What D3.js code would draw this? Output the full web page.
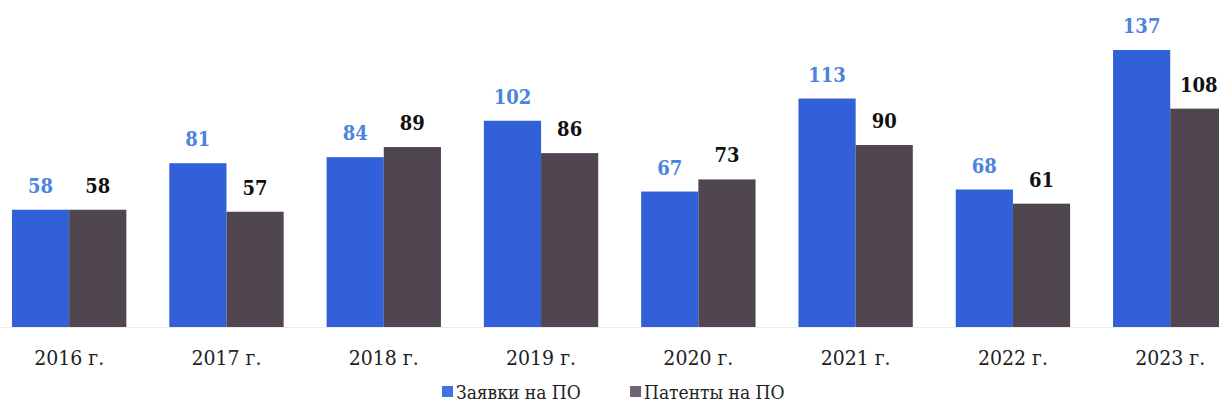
<!DOCTYPE html>
<html lang="ru">
<head>
    <meta charset="UTF-8">
    <title>Заявки и патенты на ПО</title>
    <script src="https://d3js.org/d3.v7.min.js"></script>
    <style>
        body {
            margin: 0;
            background: #fff;
            overflow: hidden;
        }
    </style>
</head>
<body>
    <script>
        const years = ["2016 г.", "2017 г.", "2018 г.", "2019 г.", "2020 г.", "2021 г.", "2022 г.", "2023 г."];
        const applications = [58, 81, 84, 102, 67, 113, 68, 137];
        const patents = [58, 57, 89, 86, 73, 90, 61, 108];
        const seriesNames = ["Заявки на ПО", "Патенты на ПО"];

        const width = 1219;
        const height = 409;
        const baseline = 327;
        const serif = "'DejaVu Serif Condensed', 'DejaVu Serif', serif";

        const barColors = ["#3160d8", "#4f4650"];
        const labelColors = ["#4a84e0", "#111111"];
        const legendColors = ["#3f72e6", "#6d6577"];

        const rows = years.map((y, i) => ({ year: y, values: [applications[i], patents[i]] }));

        const svg = d3.select("body").append("svg")
            .attr("width", width)
            .attr("height", height)
            .style("display", "block");

        const x0 = d3.scaleBand()
            .domain(years)
            .range([12, 1227.4])
            .paddingInner(0.273)
            .paddingOuter(0);

        const x1 = d3.scaleBand()
            .domain([0, 1])
            .range([0, x0.bandwidth()])
            .padding(0);

        const y = d3.scaleLinear()
            .domain([0, 137])
            .range([baseline, 50]);

        svg.append("line")
            .attr("x1", 0).attr("x2", width)
            .attr("y1", baseline + 0.5).attr("y2", baseline + 0.5)
            .attr("stroke", "#ececec")
            .attr("stroke-width", 1);

        const groups = svg.selectAll(".group")
            .data(rows)
            .enter().append("g")
            .attr("class", "group")
            .attr("transform", d => `translate(${x0(d.year)},0)`);

        groups.selectAll("rect")
            .data(d => d.values)
            .enter().append("rect")
            .attr("x", (v, i) => x1(i))
            .attr("y", v => y(v))
            .attr("width", x1.bandwidth())
            .attr("height", v => baseline - y(v))
            .attr("fill", (v, i) => barColors[i]);

        groups.selectAll(".val")
            .data(d => d.values)
            .enter().append("text")
            .attr("class", "val")
            .attr("x", (v, i) => x1(i) + x1.bandwidth() / 2)
            .attr("y", v => y(v) - 17)
            .attr("text-anchor", "middle")
            .attr("font-family", serif)
            .attr("font-size", 20)
            .attr("font-weight", "bold")
            .attr("fill", (v, i) => labelColors[i])
            .text(v => v);

        const xAxis = svg.append("g")
            .attr("transform", `translate(0,${baseline})`)
            .call(d3.axisBottom(x0).tickSize(0).tickPadding(0));
        xAxis.select(".domain").remove();
        xAxis.selectAll("text")
            .attr("y", 38)
            .attr("dy", 0)
            .attr("font-family", serif)
            .attr("font-size", 21)
            .attr("fill", "#222");

        const legend = svg.append("g").attr("transform", "translate(442,392)");
        const legendX = [0, 188];
        seriesNames.forEach((name, i) => {
            const g = legend.append("g").attr("transform", `translate(${legendX[i]},0)`);
            g.append("rect")
                .attr("x", 0).attr("y", -6)
                .attr("width", 11).attr("height", 11)
                .attr("fill", legendColors[i]);
            g.append("text")
                .attr("x", 14).attr("y", 7)
                .attr("font-family", serif)
                .attr("font-size", 19)
                .attr("fill", "#222")
                .text(name);
        });
    </script>
</body>
</html>
